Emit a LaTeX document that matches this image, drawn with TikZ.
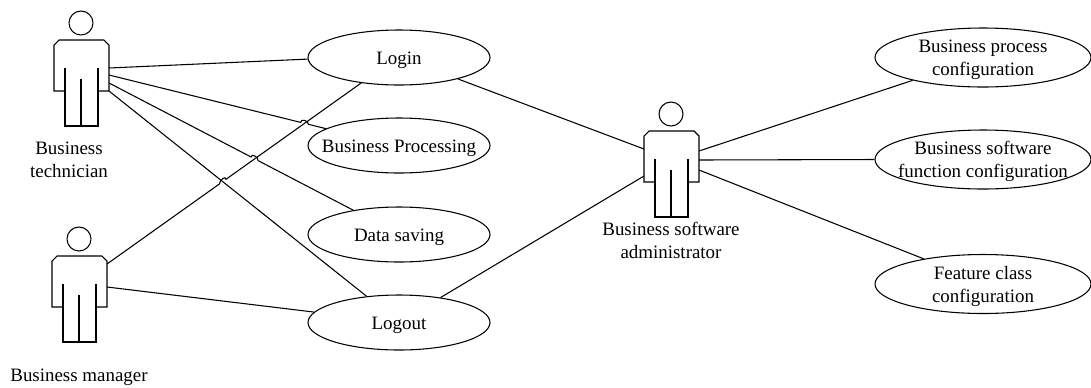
\documentclass[tikz,border=0pt]{standalone}
\usepackage{fontspec}
\setmainfont{Liberation Serif}
\usetikzlibrary{calc}
\usetikzlibrary{shapes.geometric}

\newcommand{\jumpline}[3]{\draw (#1) -- ($(#2)!3pt!(#1)$) .. controls ($(#2)!3pt!(#1)+(0,-4)$) and ($(#2)!3pt!(#3)+(0,-4)$) .. ($(#2)!3pt!(#3)$) -- (#3);}

\begin{document}
\begin{tikzpicture}[x=.75pt, y=-.75pt, line width=.8pt,
    every node/.style={font=\fontsize{14.2}{17.25}\selectfont, align=center},
    usecase/.style={ellipse, draw, inner xsep=-10pt, inner ysep=0pt, minimum width=136.5pt, minimum height=41.25pt, execute at begin node={\rule{0pt}{14pt}}},
    confcase/.style={ellipse, draw, inner xsep=-10pt, inner ysep=0pt, minimum width=162pt, minimum height=44.25pt, text depth=0pt},
    actor/.pic={
        \coordinate (-head) at (0,0);
        \draw (0,0) circle[radius=12];
        \draw (-16,45) -- (-16,103) -- (17,103) -- (17,45);
        \draw (-16,68) -- (-27,68) -- (-27,22) -- (-22,17) -- (23,17) -- (28,22) -- (28,68) -- (17,68);
        \draw (0,56) -- (0,103);
    }]
    \useasboundingbox (0,0) rectangle (1091,387);

    \path (81,23) pic (tech) {actor};
    \path (79,239) pic (mgr) {actor};
    \path (671,114) pic (admin) {actor};

    \node (techlabel) at (69,160) {Business\\technician};
    \node (mgrlabel) at (79,377) {Business manager};
    \node (adminlabel) at (671,240) {Business software\\administrator};

    \node[usecase] (login) at (399,57.5) {Login};
    \node[usecase] (bp) at (399,145.5) {Business Processing};
    \node[usecase] (ds) at (399,234.5) {Data saving};
    \node[usecase] (logout) at (399,322.5) {Logout};

    \node[confcase] (conf1) at (983,57.5) {Business process\\configuration};
    \node[confcase] (conf2) at (983,159.5) {Business software\\function configuration};
    \node[confcase] (conf3) at (983,284) {Feature class\\configuration};

    % end points on the actors
    \coordinate (tech1) at ($(tech-head)+(28,45)$);
    \coordinate (tech2) at ($(tech-head)+(28,52)$);
    \coordinate (tech3) at ($(tech-head)+(28,60)$);
    \coordinate (tech4) at ($(tech-head)+(28,68)$);
    \coordinate (mgr1) at ($(mgr-head)+(28,25)$);
    \coordinate (mgr2) at ($(mgr-head)+(28,48)$);
    \coordinate (admin1) at ($(admin-head)+(-27,35)$);
    \coordinate (admin2) at ($(admin-head)+(-27,62)$);
    \coordinate (admin3) at ($(admin-head)+(28,37)$);
    \coordinate (admin4) at ($(admin-head)+(28,46)$);
    \coordinate (admin5) at ($(admin-head)+(28,56)$);

    % crossings
    \coordinate (cross1) at (intersection of tech2--bp.167 and mgr1--login.214);
    \coordinate (cross2) at (intersection of tech3--ds.152 and mgr1--login.214);
    \coordinate (cross3) at (intersection of tech4--logout.141 and mgr1--login.214);

    \draw (tech1) -- (login.181);
    \jumpline{tech2}{cross1}{bp.167}
    \jumpline{tech3}{cross2}{ds.152}
    \draw (tech4) -- (logout.141);
    \jumpline{mgr1}{cross3}{login.214}
    \draw (mgr2) -- (logout.173);
    \draw (login.340) -- (admin1);
    \draw (logout.31) -- (admin2);
    \draw (admin3) -- (conf1.198);
    \draw (admin4) -- (conf2.180);
    \draw (admin5) -- (conf3.157);
\end{tikzpicture}
\end{document}
